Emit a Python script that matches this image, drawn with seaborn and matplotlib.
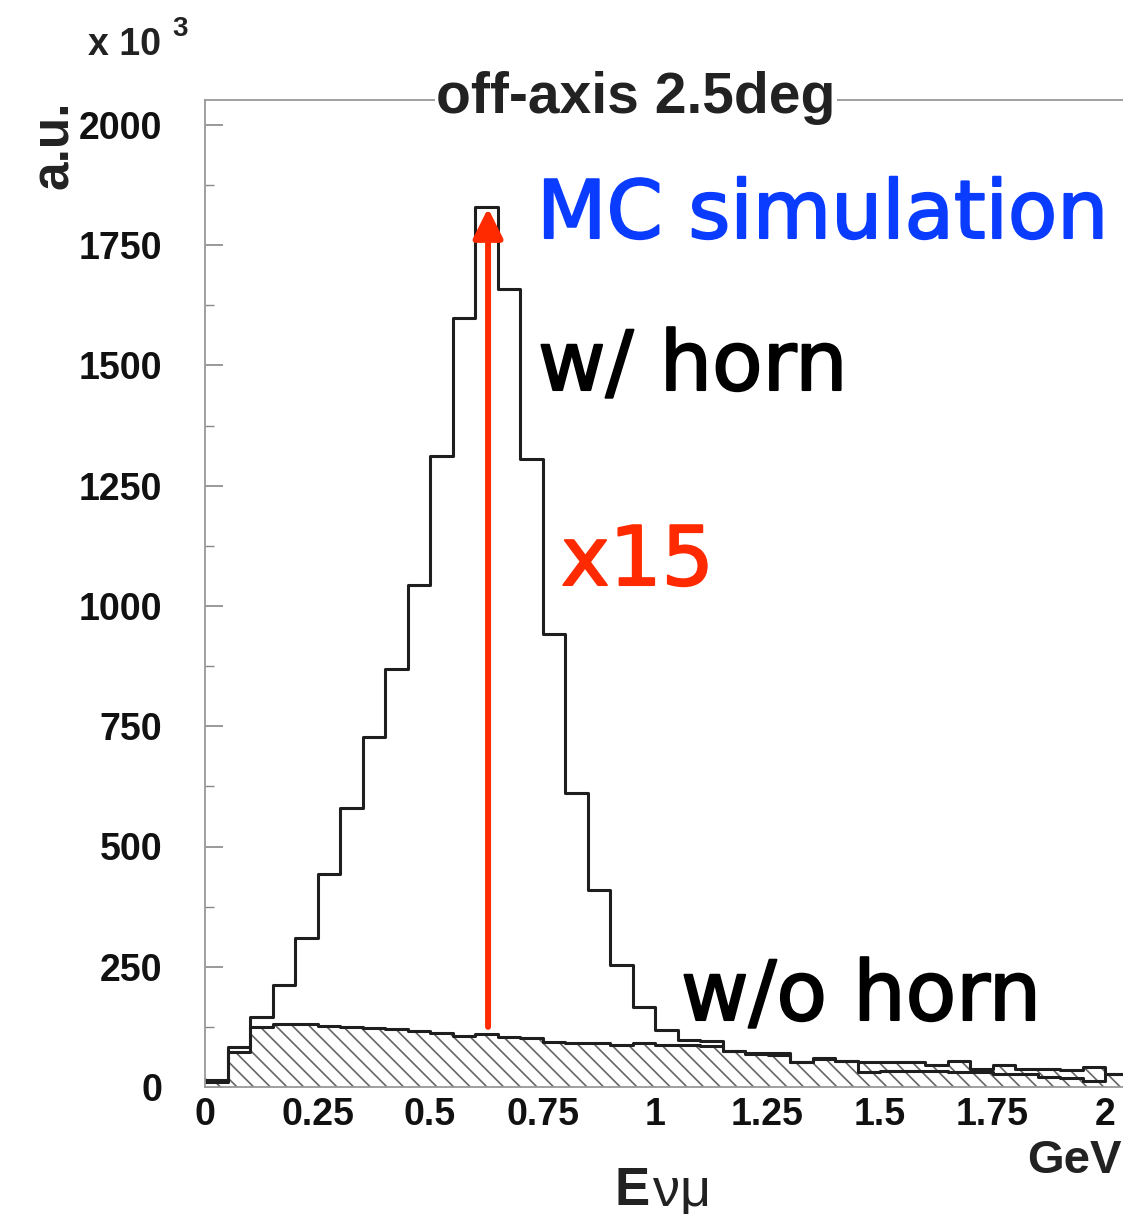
import numpy as np
import matplotlib
matplotlib.use("Agg")
import matplotlib.pyplot as plt
import matplotlib.patheffects as pe
from matplotlib.ticker import MultipleLocator, FixedLocator
import seaborn as sns

# ---------------- data ----------------
bin_width = 0.05
bin_edges = [round(i * bin_width, 3) for i in range(42)]   # 0 .. 2.05 GeV
bin_centers = [e + bin_width / 2 for e in bin_edges[:-1]]

# w/ horn (x10^3 a.u.)
with_horn = [15, 84, 146, 212, 310, 442, 581, 728, 870, 1044,
             1311, 1598, 1830, 1660, 1305, 941, 611, 410, 253, 167,
             118, 97, 96, 75, 70, 70, 51, 60, 55, 32,
             34, 34, 33, 32, 32, 27, 26, 20, 19, 13,
             27]
# w/o horn (x10^3 a.u.)
without_horn = [10, 73, 125, 131, 130, 127, 125, 122, 121, 117,
                113, 106, 111, 103, 101, 94, 91, 91, 87, 92,
                87, 87, 85, 74, 68, 66, 52, 58, 55, 53,
                53, 53, 46, 55, 37, 46, 37, 37, 36, 41,
                28]

y_ticks = [0, 250, 500, 750, 1000, 1250, 1500, 1750, 2000]
x_ticks = [0, 0.25, 0.5, 0.75, 1.0, 1.25, 1.5, 1.75, 2.0]
x_tick_labels = ["0", "0.25", "0.5", "0.75", "1", "1.25", "1.5", "1.75", "2"]

arrow_x = 0.629
arrow_y_start = 125
arrow_y_end = 1827

# ---------------- style ----------------
sns.set_style("ticks")
plt.rcParams["font.family"] = ["Liberation Sans", "DejaVu Sans"]
plt.rcParams["hatch.linewidth"] = 1.2

W, H = 1123, 1214
fig = plt.figure(figsize=(W / 100, H / 100), dpi=100)
fig.patch.set_facecolor("white")

def px(x, y):
    return x / W, 1 - y / H

left, right, top, bottom = 205, 1123, 100, 1087
ax = fig.add_axes([left / W, 1 - bottom / H, (right - left) / W, (bottom - top) / H])
ax.set_facecolor("white")

# hatched w/o horn
sns.histplot(x=bin_centers, weights=without_horn, bins=bin_edges, element="step",
             fill=True, facecolor="white", edgecolor="#666666", hatch="\\\\",
             linewidth=0, ax=ax)
sns.histplot(x=bin_centers, weights=without_horn, bins=bin_edges, element="step",
             fill=False, color="#1e1e1e", linewidth=2.2, ax=ax)
# w/ horn outline
sns.histplot(x=bin_centers, weights=with_horn, bins=bin_edges, element="step",
             fill=False, color="#1e1e1e", linewidth=2.2, ax=ax)

xmax = (right - left) / 450.0
ymax = (bottom - top) / 0.481
ax.set_xlim(0, xmax)
ax.set_ylim(0, ymax)
ax.set_xlabel("")
ax.set_ylabel("")

# spines
for s in ["left", "top", "bottom"]:
    ax.spines[s].set_color("#999999")
    ax.spines[s].set_linewidth(1.3)
ax.spines["right"].set_visible(False)

# ticks
ax.yaxis.set_major_locator(FixedLocator(y_ticks))
ax.yaxis.set_minor_locator(MultipleLocator(125))
ax.set_yticklabels([str(v) for v in y_ticks])
ax.xaxis.set_major_locator(FixedLocator(x_ticks))
ax.xaxis.set_minor_locator(MultipleLocator(0.05))
ax.set_xticklabels(x_tick_labels)

ax.tick_params(axis="y", which="major", direction="in", length=13, width=1.2,
               color="#888888", labelsize=27, pad=31, labelcolor="#111111",
               left=True, right=False)
ax.tick_params(axis="y", which="minor", direction="in", length=6.5, width=1.0,
               color="#888888", left=True, right=False)
ax.tick_params(axis="x", which="major", direction="in", length=7, width=1.0,
               color="#666666", labelsize=27, pad=7, labelcolor="#111111",
               bottom=True, top=False)
ax.tick_params(axis="x", which="minor", direction="in", length=6, width=1.0,
               color="#666666", bottom=True, top=False)
for lab in ax.get_xticklabels() + ax.get_yticklabels():
    lab.set_fontweight("bold")

# red arrow
ax.annotate("", xy=(arrow_x, arrow_y_end), xytext=(arrow_x, arrow_y_start),
            arrowprops=dict(arrowstyle="-|>,head_length=0.9,head_width=0.45",
                            color="#ff2a00", lw=4.3, shrinkA=0, shrinkB=0,
                            mutation_scale=20),
            zorder=5)

# ---------------- texts ----------------
fig.text(*px(636, 113), "off-axis 2.5deg", fontsize=41, fontweight="bold",
         ha="center", va="baseline", color="#222222",
         bbox=dict(facecolor="white", edgecolor="none", pad=1))
fig.text(*px(88, 55), "x 10", fontsize=27, fontweight="bold", ha="left",
         va="baseline", color="#222222")
fig.text(*px(172, 36), "3", fontsize=20, fontweight="bold", ha="left",
         va="baseline", color="#222222")
fig.text(*px(55, 145), "a.u.", fontsize=37, fontweight="bold", rotation=90,
         ha="center", va="center", color="#222222")
fig.text(*px(615, 1205), "E", fontsize=38, fontweight="bold", ha="left",
         va="baseline", color="#222222")
fig.text(*px(653, 1205), "νμ", fontsize=39, ha="left", va="baseline",
         color="#222222")
fig.text(*px(1027, 1173), "GeV", fontsize=34, fontweight="bold", ha="left",
         va="baseline", color="#222222")

ann_font = ["DejaVu Sans"]
def ann(x, y, s, color, size=58.5):
    t = fig.text(*px(x, y), s, fontsize=size, family=ann_font, color=color,
                 ha="left", va="baseline")
    t.set_path_effects([pe.withStroke(linewidth=1.5, foreground=color)])
    return t

ann(537, 238, "MC simulation", "#0a3cff", size=58)
ann(538, 390, "w/ horn", "black", size=59.5)
ann(561, 585, "x15", "#ff2a00", size=59)
ann(681, 1020, "w/o horn", "black", size=59.5)

fig.savefig("out.png", dpi=100, facecolor="white")
